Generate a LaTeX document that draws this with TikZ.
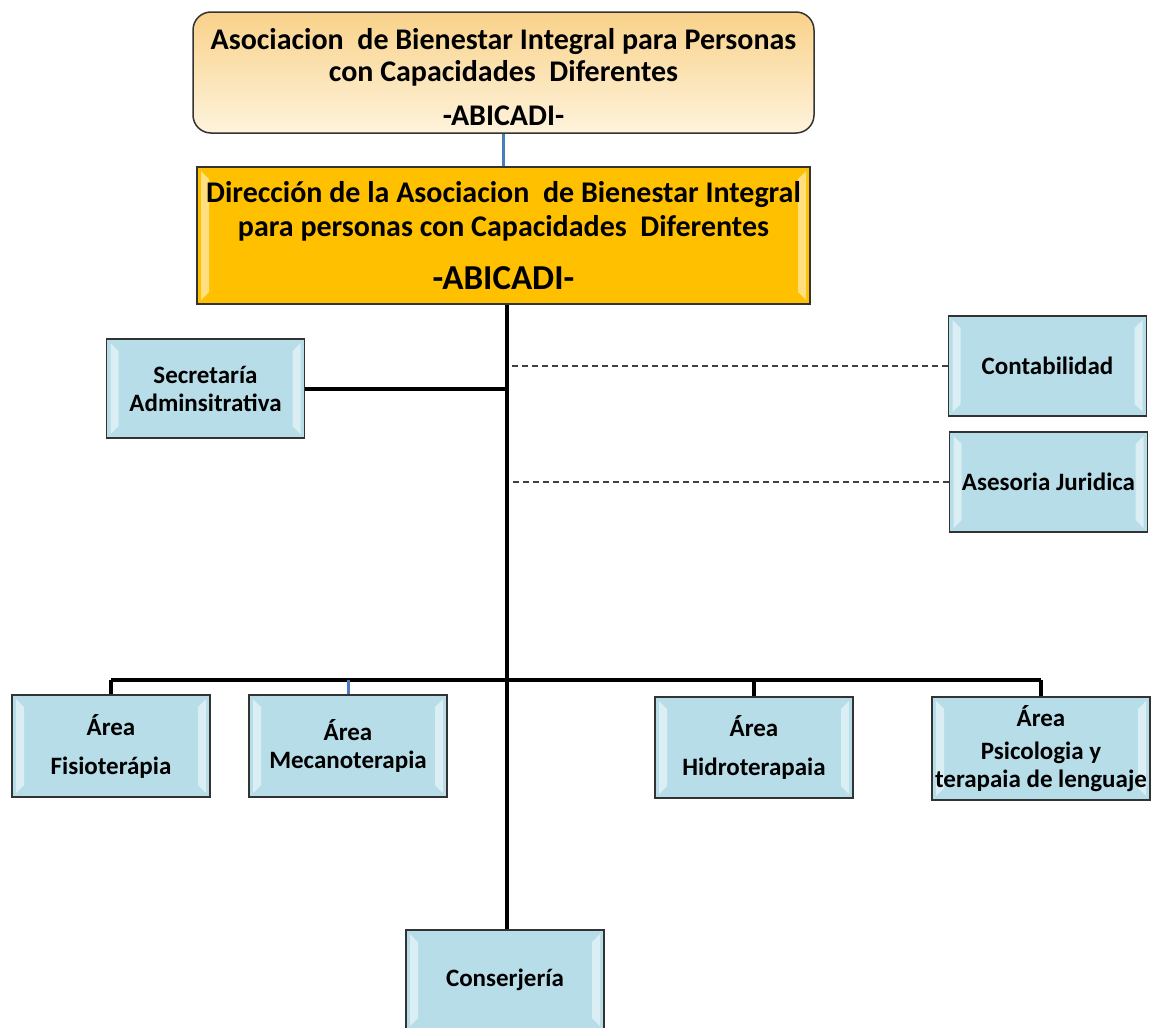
\documentclass[tikz,border=0pt]{standalone}
\usepackage{fontspec}
\setmainfont{Carlito}
\usetikzlibrary{positioning,calc}
\definecolor{azulcaja}{HTML}{B7DDE8}
\definecolor{oro}{HTML}{FFC000}
\definecolor{durazno}{HTML}{F9D28A}
\definecolor{crema}{HTML}{FEF3DC}
\definecolor{azullinea}{HTML}{4A7EBB}

\begin{document}
\begin{tikzpicture}[x=1pt,y=-1pt,
  every node/.style={inner sep=0pt},
  bisel/.style={path picture={
    \fill[white,opacity=.5] ($(path picture bounding box.north west)+(4,4)$) -- ++(8,8)
      -- ($(path picture bounding box.south west)+(12,-12)$) -- ++(-8,8) -- cycle;
    \fill[white,opacity=.5] ($(path picture bounding box.north east)+(-4,4)$) -- ++(-8,8)
      -- ($(path picture bounding box.south east)+(-12,-12)$) -- ++(8,8) -- cycle;}},
  caja/.style={draw=black!80,line width=1.5pt,fill=azulcaja,bisel,
    minimum width=198pt,minimum height=100pt,align=center,
    font=\fontsize{25}{28}\selectfont\bfseries},
  linea/.style={line width=4pt},
  punteada/.style={dash pattern=on 6pt off 4pt,line width=1.2pt,black!75}]
\useasboundingbox (0,0) rectangle (1152,1028);

\node[draw=black!80,line width=1.5pt,rounded corners=18pt,top color=durazno,bottom color=crema,
  minimum width=621pt,minimum height=121pt,align=center,
  font=\fontsize{30}{32}\selectfont\bfseries] (abicadi) at (503.5,72.5)
  {\rule{0pt}{31pt}Asociacion\ \ de Bienestar Integral para Personas\\con Capacidades\ \ Diferentes\\[12pt]-ABICADI-};
\node[draw=black!80,line width=1.5pt,fill=oro,bisel,minimum width=613pt,minimum height=137pt,
  align=center,font=\fontsize{30}{34}\selectfont\bfseries] (direccion) at (503.5,235.5)
  {Dirección de la Asociacion\ \ de Bienestar Integral\\para personas con Capacidades\ \ Diferentes\\[19pt]{\fontsize{35}{40}\selectfont -ABICADI-}};

\node[caja,minimum height=99pt] (secretaria) at (205.5,388.5) {Secretaría\\Adminsitrativa};
\node[caja] (contabilidad) at (1047.5,366) {Contabilidad};
\node[caja] (asesoria) at (1048.5,482) {Asesoria Juridica};

\node[caja,minimum height=102pt] (fisio) at (111,746) {Área\\[11pt]Fisioterápia};
\node[caja,minimum height=102pt] (meca) at (348,746) {Área\\Mecanoterapia};
\node[caja,minimum height=101pt] (hidro) at (754,747.5) {Área\\[11pt]Hidroterapaia};
\node[caja,minimum width=218pt,minimum height=103pt] (psico) at (1041,748.5) {Área\\[5pt]Psicologia y\\terapaia de lenguaje};
\node[caja] (conserjeria) at (505,980) {Conserjería};

\coordinate (barra) at (507,680);

\draw[azullinea,line width=3pt] (abicadi.south) -- (direccion.north);
\draw[linea] (direccion.south -| barra) -- (conserjeria.north -| barra);
\draw[linea] (secretaria.east) -- (secretaria.east -| barra);
\draw[punteada] (contabilidad.west) -- ($(contabilidad.west -| barra)+(3,0)$);
\draw[punteada] (asesoria.west) -- ($(asesoria.west -| barra)+(3,0)$);
\draw[linea] (barra -| fisio.north) -- (barra -| psico.north);
\draw[linea] (barra -| fisio.north) -- (fisio.north);
\draw[azullinea,line width=3pt] (barra -| meca.north) -- (meca.north);
\draw[linea] (barra -| hidro.north) -- (hidro.north);
\draw[linea] (barra -| psico.north) -- (psico.north);
\end{tikzpicture}
\end{document}
